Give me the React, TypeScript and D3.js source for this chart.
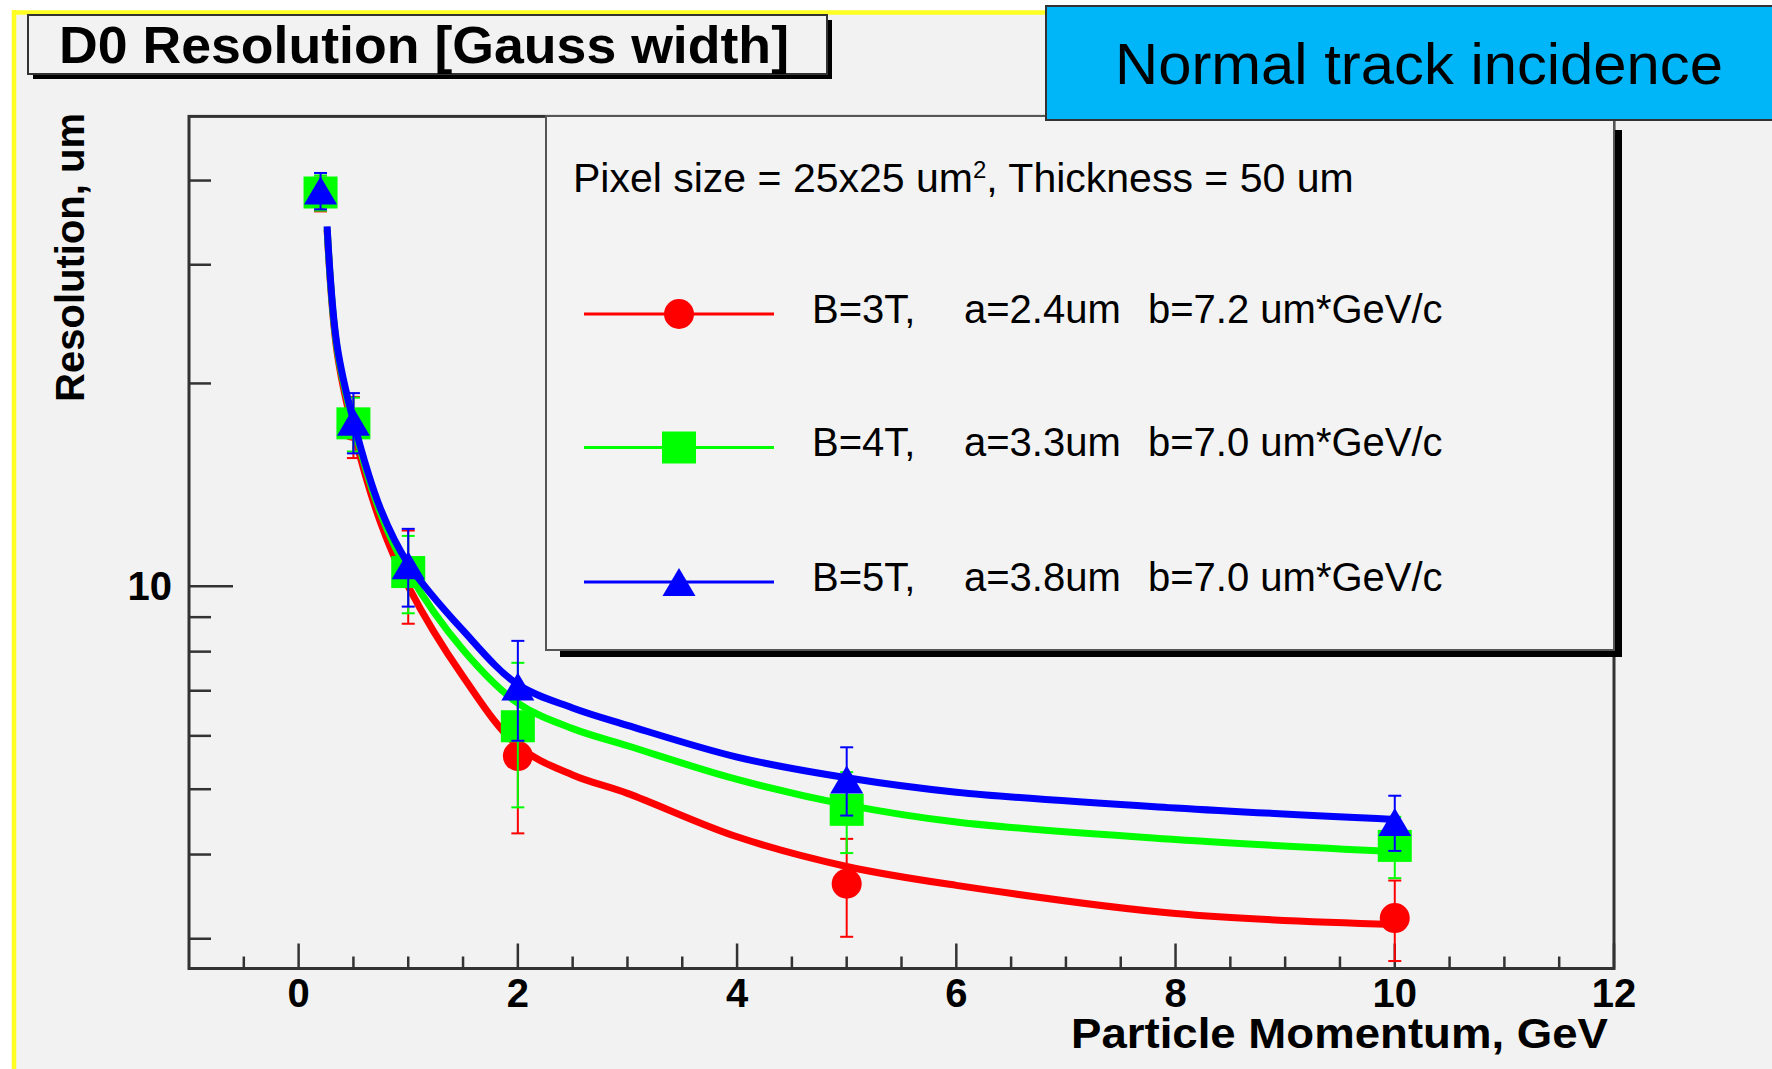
import React from 'react';
import * as d3 from 'd3';

const W = 1772;
const H = 1069;

// measured points (momentum in GeV, resolution in um)
const momenta = [0.2, 0.5, 1, 2, 5, 10];
const res3T = [38.2, 17.3, 10.45, 5.6, 3.62, 3.22];
const err3T = [2.2, 1.8, 1.65, 1.3, 0.6, 0.44];
const res4T = [38.4, 17.45, 10.5, 6.2, 4.66, 4.12];
const err4T = [2.3, 1.6, 1.38, 1.5, 0.64, 0.43];
const res5T = [38.65, 17.55, 10.75, 7.1, 5.17, 4.47];
const err5T = [2.4, 1.8, 1.42, 1.2, 0.6, 0.42];

// fitted curves
const fitX3T = [0.26, 0.35, 0.5, 0.75, 1.0, 1.5, 2.0, 2.5, 3.0, 4.0, 5.0, 6.0, 8.0, 10.0];
const fitY3T = [33.8, 22.3, 17.0, 12.4, 10.0, 7.35, 5.8, 5.25, 4.93, 4.25, 3.84, 3.6, 3.27, 3.15];
const fitX4T = [0.26, 0.35, 0.5, 0.75, 1.0, 1.5, 2.0, 2.5, 3.0, 4.0, 5.0, 6.0, 8.0, 10.0];
const fitY4T = [34.0, 22.6, 17.4, 12.8, 10.5, 8.05, 6.71, 6.15, 5.8, 5.17, 4.74, 4.47, 4.21, 4.04];
const fitX5T = [0.26, 0.35, 0.5, 0.75, 1.0, 1.5, 2.0, 2.5, 3.0, 4.0, 5.0, 6.0, 8.0, 10.0];
const fitY5T = [34.2, 22.8, 17.6, 13.0, 10.8, 8.6, 7.15, 6.6, 6.22, 5.58, 5.2, 4.95, 4.69, 4.51];

const legendB = ['B=3T,', 'B=4T,', 'B=5T,'];
const legendA = ['a=2.4um', 'a=3.3um', 'a=3.8um'];
const legendBpar = ['b=7.2 um*GeV/c', 'b=7.0 um*GeV/c', 'b=7.0 um*GeV/c'];
const colors = ['#ff0000', '#00ff00', '#0000ff'];
const shapes = ['circle', 'square', 'triangle'];

const xMajorTicks = [0, 2, 4, 6, 8, 10, 12];
const xMinorTicks = [-0.5, 0.5, 1, 1.5, 2.5, 3, 3.5, 4.5, 5, 5.5, 6.5, 7, 7.5, 8.5, 9, 9.5, 10.5, 11, 11.5];
const yMajorTicks = [10];
const yMinorTicks = [3, 4, 5, 6, 7, 8, 9, 20, 30, 40];

const FONT = '"Liberation Sans", Arial, Helvetica, sans-serif';

function Marker({ shape, cx, cy, color }: { shape: string; cx: number; cy: number; color: string }) {
  if (shape === 'circle') return <circle cx={cx} cy={cy} r={15} fill={color} />;
  if (shape === 'square') return <rect x={cx - 17} y={cy - 16} width={34} height={32} fill={color} />;
  const w = 33, h = 28;
  return <path d={`M${cx},${cy - h / 2}L${cx + w / 2},${cy + h / 2}L${cx - w / 2},${cy + h / 2}Z`} fill={color} />;
}

export default function App() {
  const x = d3.scaleLinear().domain([-1, 12]).range([189, 1614]);
  const y = d3.scaleLog().domain([2.71, 49.8]).range([968.5, 116.4]);
  const line = d3
    .line<[number, number]>()
    .x((d) => x(d[0]))
    .y((d) => y(d[1]))
    .curve(d3.curveCatmullRom.alpha(0.5));

  const series = [
    { values: res3T, errs: err3T, fx: fitX3T, fy: fitY3T },
    { values: res4T, errs: err4T, fx: fitX4T, fy: fitY4T },
    { values: res5T, errs: err5T, fx: fitX5T, fy: fitY5T },
  ];

  const x0 = x.range()[0];
  const x1 = x.range()[1];
  const yb = y.range()[0];
  const yt = y.range()[1];

  const legRows = [314, 447.5, 582];
  const legBase = [323, 456, 591];

  return (
    <svg
      width={W}
      height={H}
      style={{ position: 'absolute', left: 0, top: 0, display: 'block' }}
      fontFamily={FONT}
    >
      <rect x={0} y={0} width={W} height={H} fill="#ffffff" />
      <rect x={14} y={12} width={W - 14} height={H - 12} fill="#f2f2f2" />
      <line x1={12} y1={12.5} x2={W} y2={12.5} stroke="#ffff22" strokeWidth={4.5} />
      <line x1={14} y1={10} x2={14} y2={H} stroke="#ffff22" strokeWidth={4.5} />

      {/* title box */}
      <rect x={33} y={20} width={799} height={59} fill="#000" />
      <rect x={28} y={15} width={799} height={59} fill="#f2f2f2" stroke="#333" strokeWidth={2} />
      <text x={59} y={63} fontSize={52} fontWeight="bold" textLength={730} lengthAdjust="spacingAndGlyphs">
        D0 Resolution [Gauss width]
      </text>

      {/* frame */}
      <rect x={x0} y={yt} width={x1 - x0} height={yb - yt} fill="none" stroke="#333" strokeWidth={3} />
      {xMajorTicks.map((t) => (
        <line key={'xM' + t} x1={x(t)} x2={x(t)} y1={yb} y2={yb - 25} stroke="#333" strokeWidth={2.5} />
      ))}
      {xMinorTicks.map((t) => (
        <line key={'xm' + t} x1={x(t)} x2={x(t)} y1={yb} y2={yb - 12} stroke="#333" strokeWidth={2.5} />
      ))}
      {yMajorTicks.map((t) => (
        <line key={'yM' + t} x1={x0} x2={x0 + 44} y1={y(t)} y2={y(t)} stroke="#333" strokeWidth={2.5} />
      ))}
      {yMinorTicks.map((t) => (
        <line key={'ym' + t} x1={x0} x2={x0 + 22} y1={y(t)} y2={y(t)} stroke="#333" strokeWidth={2.5} />
      ))}
      {xMajorTicks.map((t) => (
        <text key={'xl' + t} x={x(t)} y={1007} fontSize={40} fontWeight="bold" textAnchor="middle">
          {t}
        </text>
      ))}
      {yMajorTicks.map((t) => (
        <text key={'yl' + t} x={172} y={y(t) + 14} fontSize={40} fontWeight="bold" textAnchor="end">
          {t}
        </text>
      ))}
      <text
        x={1608}
        y={1048}
        fontSize={42}
        fontWeight="bold"
        textAnchor="end"
        textLength={537}
        lengthAdjust="spacingAndGlyphs"
      >
        Particle Momentum, GeV
      </text>
      <text transform="translate(84,113) rotate(-90)" fontSize={40} fontWeight="bold" textAnchor="end">
        Resolution, um
      </text>

      {/* legend */}
      <rect x={560} y={130} width={1062} height={527} fill="#000" />
      <rect x={546} y={116} width={1068} height={534} fill="#f3f3f3" stroke="#555" strokeWidth={2} />
      <text x={573} y={192} fontSize={41}>
        Pixel size = 25x25 um
        <tspan dy={-14} fontSize={24}>
          2
        </tspan>
        <tspan dy={14}>, Thickness = 50 um</tspan>
      </text>
      {legendB.map((b, i) => (
        <g key={'leg' + i}>
          <line x1={584} x2={774} y1={legRows[i]} y2={legRows[i]} stroke={colors[i]} strokeWidth={3} />
          <Marker shape={shapes[i]} cx={679} cy={legRows[i]} color={colors[i]} />
          <text x={812} y={legBase[i]} fontSize={40}>
            {b}
          </text>
          <text x={964} y={legBase[i]} fontSize={40}>
            {legendA[i]}
          </text>
          <text x={1148} y={legBase[i]} fontSize={40}>
            {legendBpar[i]}
          </text>
        </g>
      ))}

      {/* graphs */}
      {series.map((s, i) => (
        <g key={'s' + i}>
          <path
            d={line(s.fx.map((v, j) => [v, s.fy[j]] as [number, number])) || ''}
            fill="none"
            stroke={colors[i]}
            strokeWidth={7}
            strokeLinejoin="round"
          />
          {momenta.map((m, j) => {
            const cx = x(m);
            const top = y(s.values[j] + s.errs[j]);
            const bot = y(s.values[j] - s.errs[j]);
            return (
              <g key={'e' + j}>
                <line x1={cx} x2={cx} y1={top} y2={bot} stroke={colors[i]} strokeWidth={2} />
                <line x1={cx - 6.5} x2={cx + 6.5} y1={top} y2={top} stroke={colors[i]} strokeWidth={2} />
                <line x1={cx - 6.5} x2={cx + 6.5} y1={bot} y2={bot} stroke={colors[i]} strokeWidth={2} />
                <Marker shape={shapes[i]} cx={cx} cy={y(s.values[j])} color={colors[i]} />
              </g>
            );
          })}
        </g>
      ))}

      {/* blue label box */}
      <rect x={1046} y={6} width={760} height={114} fill="#00b6f8" stroke="#333" strokeWidth={2} />
      <text x={1115} y={84} fontSize={58} textLength={608} lengthAdjust="spacingAndGlyphs">
        Normal track incidence
      </text>
    </svg>
  );
}
